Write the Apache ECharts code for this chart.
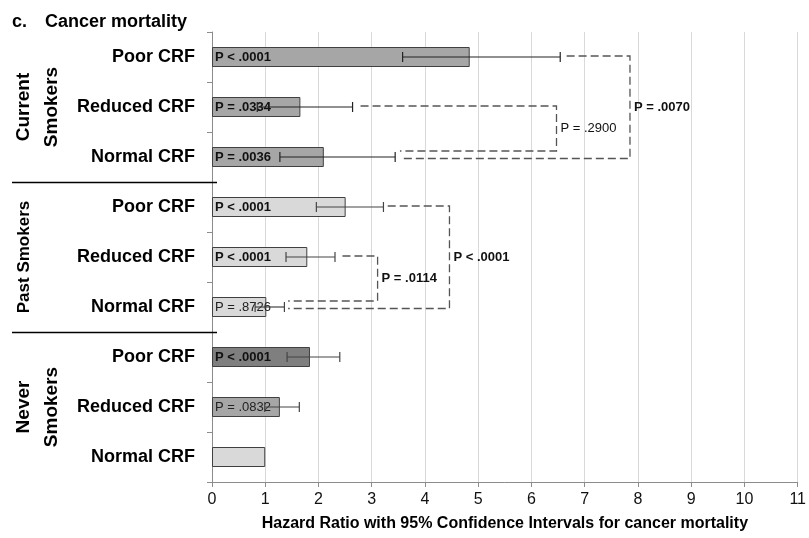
<!DOCTYPE html>
<html>
<head>
<meta charset="utf-8">
<script src="https://cdn.jsdelivr.net/npm/echarts@6/dist/echarts.min.js"></script>
<style>
  html, body { margin: 0; padding: 0; background: #fff; }
  #chart { width: 809px; height: 538px; }
</style>
</head>
<body>
<div id="chart"></div>
<script>
// Rows, top to bottom: three fitness levels within each smoking group
const categories = [
  'Poor CRF', 'Reduced CRF', 'Normal CRF',
  'Poor CRF', 'Reduced CRF', 'Normal CRF',
  'Poor CRF', 'Reduced CRF', 'Normal CRF'
];
const groupNames = ['Current\nSmokers', 'Past Smokers', 'Never\nSmokers'];
const groupRows = [[0, 2], [3, 5], [6, 8]];

// Hazard ratios with 95% confidence limits
const hazardRatio = [4.84, 1.66, 2.10, 2.51, 1.79, 1.02, 1.84, 1.275, 1.00];
const ciLower     = [3.58, 0.85, 1.275, 1.96, 1.39, 0.81, 1.41, 0.99, null];
const ciUpper     = [6.54, 2.64, 3.44, 3.22, 2.31, 1.36, 2.40, 1.64, null];

// P values printed inside the bars
const pLabels = ['P < .0001', 'P = .0334', 'P = .0036', 'P < .0001', 'P < .0001', 'P = .8726', 'P < .0001', 'P = .0832', ''];
const pBold   = [true, true, true, true, true, false, true, false, false];

const barColors = ['#a6a6a6', '#a6a6a6', '#a6a6a6', '#d9d9d9', '#d9d9d9', '#d9d9d9', '#7f7f7f', '#a6a6a6', '#d9d9d9'];

// Pairwise comparisons between rows (bracket start/end/side positions on the HR scale)
const compFrom   = [1, 0, 4, 3];
const compTo     = [2, 2, 5, 5];
const compStartX = [2.79, 6.66, 2.45, 3.30];
const compEndX   = [3.53, 3.53, 1.43, 1.43];
const compSideX  = [6.47, 7.85, 3.11, 4.46];
const compLabels = ['P = .2900', 'P = .0070', 'P = .0114', 'P < .0001'];
const compBold   = [false, true, true, true];
const compInner  = [true, false, true, false];

const xTicks = [0, 1, 2, 3, 4, 5, 6, 7, 8, 9, 10, 11];

const FONT = '"Liberation Sans", Arial, sans-serif';

const chart = echarts.init(document.getElementById('chart'), null, { renderer: 'canvas' });

const option = {
  animation: false,
  backgroundColor: '#ffffff',
  title: {
    text: '{c|c.}{t|Cancer mortality}',
    left: 7,
    top: 8,
    textStyle: {
      rich: {
        c: { fontFamily: FONT, fontWeight: 'bold', fontSize: 18, color: '#000', width: 33 },
        t: { fontFamily: FONT, fontWeight: 'bold', fontSize: 18, color: '#000' }
      }
    }
  },
  grid: { left: 212, right: 10, top: 32, bottom: 56, containLabel: false },
  xAxis: {
    type: 'value',
    min: xTicks[0],
    max: xTicks[xTicks.length - 1],
    interval: 1,
    name: 'Hazard Ratio with 95% Confidence Intervals for cancer mortality',
    nameLocation: 'middle',
    nameGap: 34,
    nameTextStyle: { fontFamily: FONT, fontWeight: 'bold', fontSize: 16, color: '#000' },
    axisLine: { show: true, lineStyle: { color: '#8c8c8c', width: 1 } },
    axisTick: { show: true, length: 5, lineStyle: { color: '#8c8c8c' } },
    axisLabel: { fontFamily: FONT, fontSize: 16, color: '#111', margin: 10 },
    splitLine: { show: true, lineStyle: { color: '#d9d9d9', width: 1 } }
  },
  yAxis: {
    type: 'category',
    data: categories,
    inverse: true,
    axisLine: { show: true, lineStyle: { color: '#8c8c8c', width: 1 } },
    axisTick: { show: true, length: 5, lineStyle: { color: '#8c8c8c' } },
    axisLabel: { fontFamily: FONT, fontWeight: 'bold', fontSize: 18, color: '#000', margin: 17 },
    splitLine: { show: false }
  },
  series: [
    {
      type: 'bar',
      z: 2,
      barWidth: 20,
      data: hazardRatio.map((v, i) => ({
        value: v,
        itemStyle: { color: barColors[i], borderColor: '#404040', borderWidth: 1 }
      })),
      label: {
        show: true,
        position: 'insideLeft',
        distance: 3,
        formatter: p => pLabels[p.dataIndex] ? (pBold[p.dataIndex] ? '{b|' : '{n|') + pLabels[p.dataIndex] + '}' : '',
        rich: {
          b: { fontFamily: FONT, fontWeight: 'bold', fontSize: 13, color: '#111' },
          n: { fontFamily: FONT, fontSize: 13, color: '#222' }
        }
      }
    },
    {
      // 95% confidence interval whiskers
      type: 'custom',
      z: 5,
      data: ciLower.map((lo, i) => [lo, ciUpper[i], i]).filter(d => d[0] != null),
      encode: { x: [0, 1], y: 2 },
      renderItem: (params, api) => {
        const i = api.value(2);
        const a = api.coord([api.value(0), i]);
        const b = api.coord([api.value(1), i]);
        const h = 5;
        const style = { stroke: i >= 3 ? '#444' : '#222', lineWidth: 1.2 };
        return {
          type: 'group',
          children: [
            { type: 'line', shape: { x1: a[0], y1: a[1], x2: b[0], y2: b[1] }, style },
            { type: 'line', shape: { x1: a[0], y1: a[1] - h, x2: a[0], y2: a[1] + h }, style },
            { type: 'line', shape: { x1: b[0], y1: b[1] - h, x2: b[0], y2: b[1] + h }, style }
          ]
        };
      }
    },
    {
      // Dashed brackets comparing rows within a smoking group
      type: 'custom',
      z: 6,
      clip: false,
      data: compFrom.map((f, k) => [compSideX[k], f, k]),
      encode: { x: 0, y: 1 },
      renderItem: (params, api) => {
        const k = api.value(2);
        const top = api.coord([compStartX[k], compFrom[k]]);
        const bot = api.coord([compEndX[k], compTo[k]]);
        const sideX = api.coord([compSideX[k], compFrom[k]])[0];
        const yTop = top[1] - 1;
        const yBot = bot[1] + (compInner[k] ? -6 : 1.5);
        return {
          type: 'group',
          children: [
            {
              type: 'polyline',
              shape: { points: [[top[0], yTop], [sideX, yTop], [sideX, yBot], [bot[0], yBot]] },
              style: { fill: null, stroke: '#555', lineWidth: 1.3, lineDash: [8, 4] }
            },
            {
              type: 'text',
              x: sideX + 4,
              y: (yTop + yBot) / 2,
              style: {
                text: compLabels[k],
                fontFamily: FONT,
                fontSize: 13,
                fontWeight: compBold[k] ? 'bold' : 'normal',
                fill: '#111',
                align: 'left',
                verticalAlign: 'middle'
              }
            }
          ]
        };
      }
    },
    {
      // Smoking-group titles and the rules separating the groups
      type: 'custom',
      z: 6,
      clip: false,
      data: groupRows.map((r, g) => [0, r[0], g]),
      encode: { x: 0, y: 1 },
      renderItem: (params, api) => {
        const g = api.value(2);
        const first = api.coord([0, groupRows[g][0]]);
        const last = api.coord([0, groupRows[g][1]]);
        const cy = (first[1] + last[1]) / 2;
        const twoLine = groupNames[g].indexOf('\n') >= 0;
        const children = [
          {
            type: 'text',
            x: twoLine ? 38 : 24,
            y: cy,
            rotation: Math.PI / 2,
            style: {
              text: groupNames[g],
              fontFamily: FONT,
              fontWeight: 'bold',
              fontSize: twoLine ? 19 : 17,
              lineHeight: 28,
              fill: '#000',
              align: 'center',
              verticalAlign: 'middle'
            }
          }
        ];
        if (g < groupRows.length - 1) {
          const nextFirst = api.coord([0, groupRows[g + 1][0]]);
          const by = Math.round((last[1] + nextFirst[1]) / 2) + 0.5;
          children.push({
            type: 'line',
            shape: { x1: 12, y1: by, x2: first[0] + 5, y2: by },
            style: { stroke: '#000', lineWidth: 1.3 }
          });
        }
        return { type: 'group', children };
      }
    }
  ]
};

chart.setOption(option);
</script>
</body>
</html>
